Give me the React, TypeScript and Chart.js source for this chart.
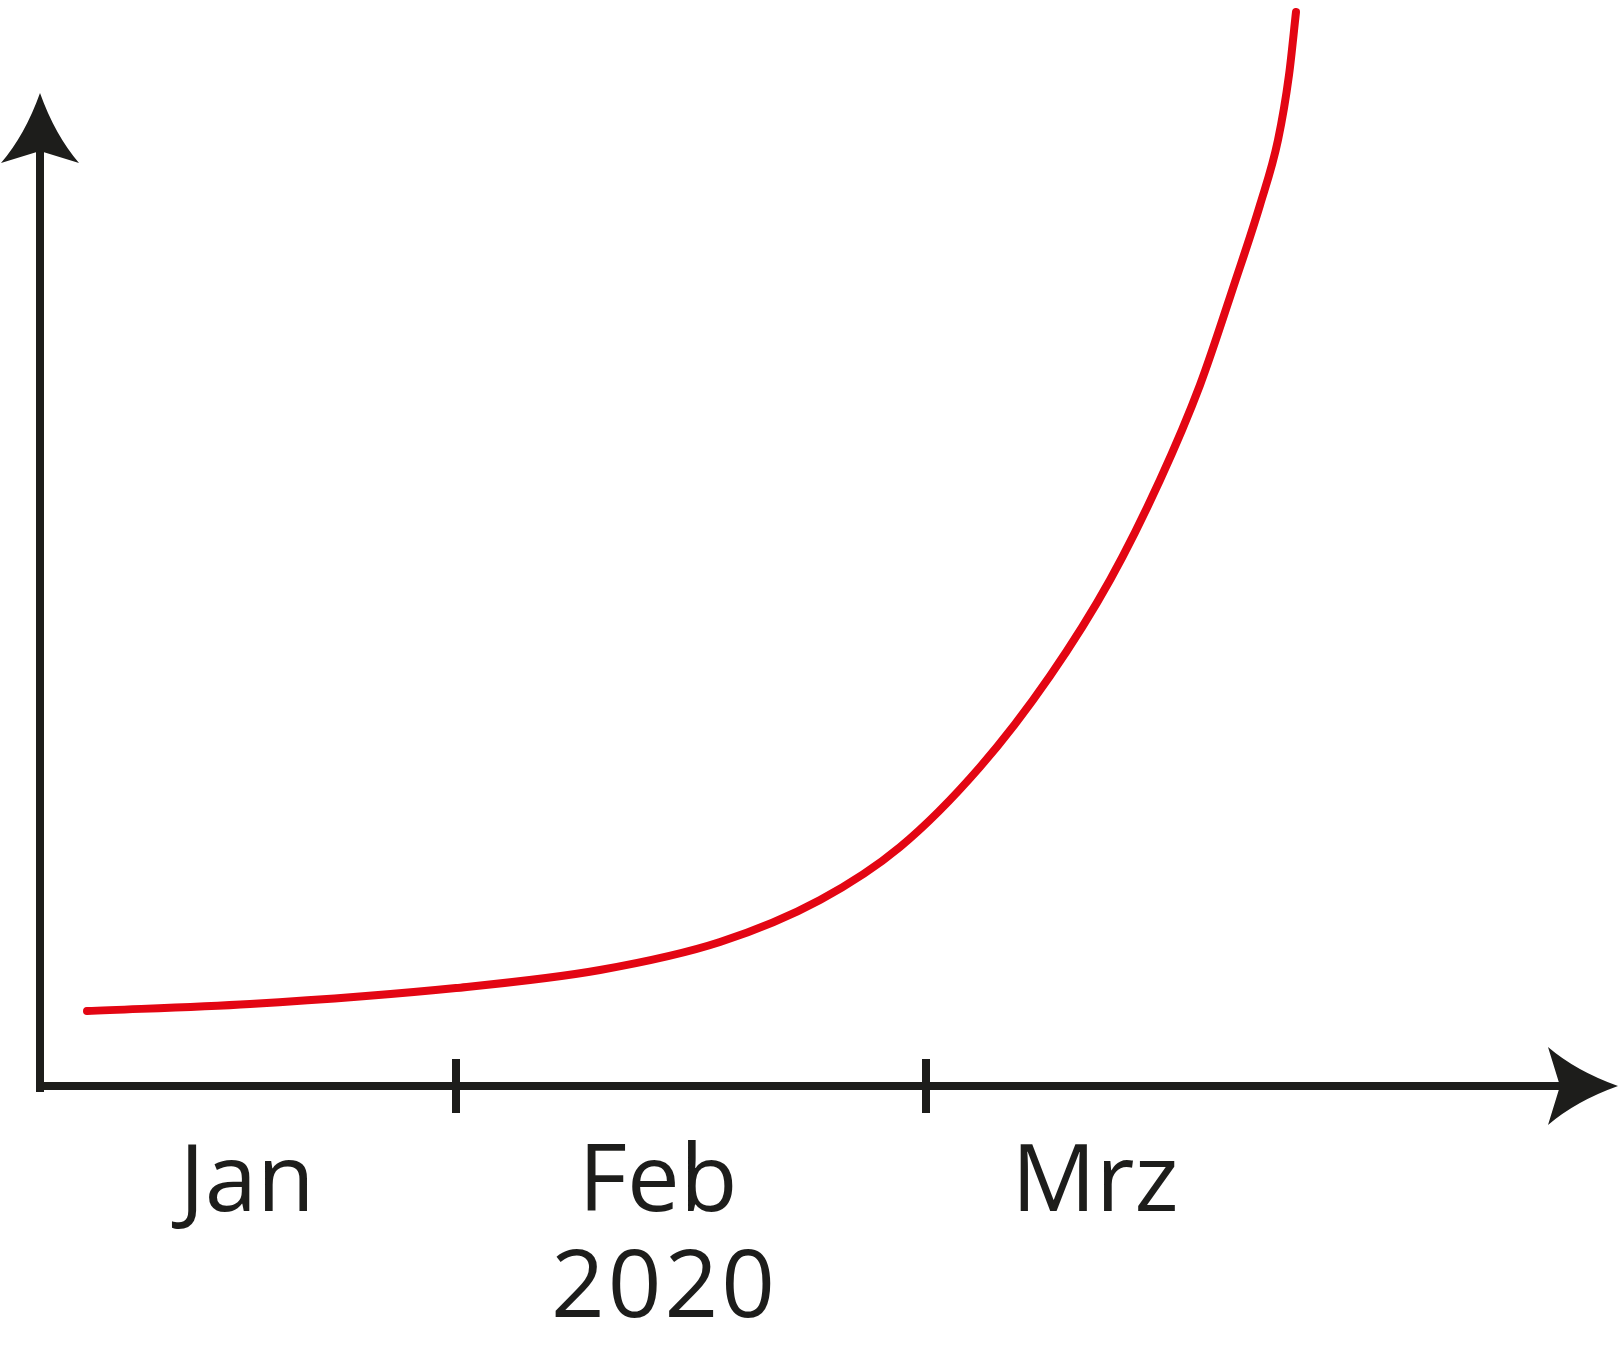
import { useEffect, useRef } from "react";
import { Chart, registerables } from "chart.js";

Chart.register(...registerables);

// Curve samples (x: position along time axis, y: level above x-axis)
const curveX = [47, 210, 416, 560, 680, 780, 860, 940, 1010, 1070, 1120, 1160, 1195, 1220, 1238, 1249, 1256];
const curveY = [75, 82, 98, 116, 144, 186, 239, 319, 410, 506, 606, 701, 804, 881, 946, 1011, 1074];

// Axis ticks (month boundaries) and labels
const tickValues = [416, 886];
const monthLabels = ["Jan", "Feb", "Mrz"];
const monthLabelX = [207, 618, 1055];
const yearLabel = "2020";
const yearLabelX = 623;

// Axis extents
const xMax = 1580;
const yMax = 1086;
const xAxisEnd = 1578;
const yAxisEnd = 993;

const INK = "#1d1d1b";
const RED = "#e30613";

const axesPlugin = {
  id: "handAxes",
  afterDraw(chart: any) {
    const ctx = chart.ctx as CanvasRenderingContext2D;
    const xs = chart.scales.x;
    const ys = chart.scales.y;
    const x0 = xs.getPixelForValue(0);
    const y0 = ys.getPixelForValue(0);
    const xEnd = xs.getPixelForValue(xAxisEnd);
    const yEnd = ys.getPixelForValue(yAxisEnd);
    ctx.save();
    ctx.strokeStyle = INK;
    ctx.fillStyle = INK;
    ctx.lineWidth = 8;
    ctx.lineCap = "butt";
    // L-shaped axes
    ctx.beginPath();
    ctx.moveTo(x0, yEnd + 58);
    ctx.lineTo(x0, y0);
    ctx.lineTo(xEnd - 58, y0);
    ctx.stroke();
    ctx.fillRect(x0 - 4, y0 - 4, 8, 10);
    // y arrow (up)
    {
      const tx = x0, ty = yEnd;
      ctx.beginPath();
      ctx.moveTo(tx, ty);
      ctx.quadraticCurveTo(tx - 15, ty + 42, tx - 39, ty + 70);
      ctx.lineTo(tx, ty + 58);
      ctx.lineTo(tx + 39, ty + 70);
      ctx.quadraticCurveTo(tx + 15, ty + 42, tx, ty);
      ctx.closePath();
      ctx.fill();
    }
    // x arrow (right)
    {
      const tx = xEnd, ty = y0;
      ctx.beginPath();
      ctx.moveTo(tx, ty);
      ctx.quadraticCurveTo(tx - 42, ty - 15, tx - 70, ty - 39);
      ctx.lineTo(tx - 58, ty);
      ctx.lineTo(tx - 70, ty + 39);
      ctx.quadraticCurveTo(tx - 42, ty + 15, tx, ty);
      ctx.closePath();
      ctx.fill();
    }
    // ticks
    ctx.lineWidth = 8;
    tickValues.forEach((v) => {
      const px = xs.getPixelForValue(v);
      ctx.beginPath();
      ctx.moveTo(px, y0 - 27);
      ctx.lineTo(px, y0 + 27);
      ctx.stroke();
    });
    // labels
    ctx.font = '94px "Open Sans"';
    ctx.textAlign = "center";
    ctx.textBaseline = "alphabetic";
    monthLabels.forEach((t, i) => {
      ctx.fillText(t, xs.getPixelForValue(monthLabelX[i]), y0 + 125);
    });
    (ctx as any).letterSpacing = "3px";
    ctx.fillText(yearLabel, xs.getPixelForValue(yearLabelX) + 1.5, y0 + 231);
    ctx.restore();
  },
};

export default function App() {
  const ref = useRef<HTMLCanvasElement | null>(null);
  useEffect(() => {
    if (!ref.current) return;
    const chart = new Chart(ref.current, {
      type: "line",
      data: {
        datasets: [
          {
            data: curveX.map((x, i) => ({ x, y: curveY[i] })),
            borderColor: RED,
            borderWidth: 8,
            borderCapStyle: "round",
            borderJoinStyle: "round",
            pointRadius: 0,
            fill: false,
            cubicInterpolationMode: "monotone",
            clip: false,
          } as any,
        ],
      },
      options: {
        responsive: false,
        animation: false,
        devicePixelRatio: 1,
        layout: { padding: { left: 40, right: 0, top: 0, bottom: 274 } },
        plugins: { legend: { display: false }, tooltip: { enabled: false } },
        scales: {
          x: { type: "linear", min: 0, max: xMax, display: false },
          y: { type: "linear", min: 0, max: yMax, display: false },
        },
      },
      plugins: [axesPlugin],
    });
    return () => chart.destroy();
  }, []);
  return (
    <div style={{ position: "absolute", left: 0, top: 0, width: 1620, height: 1360, background: "#fff" }}>
      <canvas ref={ref} width={1620} height={1360} style={{ width: 1620, height: 1360 }} />
    </div>
  );
}
